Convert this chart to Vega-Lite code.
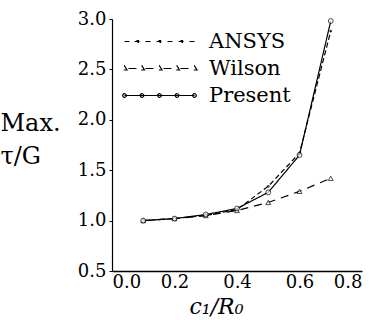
{
  "$schema": "https://vega.github.io/schema/vega-lite/v6.json",
  "width": 250,
  "height": 252,
  "autosize": {"type": "none"},
  "padding": {"left": 112, "top": 19, "right": 12, "bottom": 49},
  "background": "white",
  "config": {"view": {"stroke": null}, "font": "DejaVu Serif"},
  "data": {
    "values": [
      {"series": "ANSYS", "x": 0.1, "y": 1.0},
      {"series": "ANSYS", "x": 0.2, "y": 1.02},
      {"series": "ANSYS", "x": 0.3, "y": 1.05},
      {"series": "ANSYS", "x": 0.4, "y": 1.11},
      {"series": "ANSYS", "x": 0.5, "y": 1.34},
      {"series": "ANSYS", "x": 0.6, "y": 1.67},
      {"series": "ANSYS", "x": 0.7, "y": 2.88},
      {"series": "Wilson", "x": 0.1, "y": 1.0},
      {"series": "Wilson", "x": 0.2, "y": 1.02},
      {"series": "Wilson", "x": 0.3, "y": 1.05},
      {"series": "Wilson", "x": 0.4, "y": 1.1},
      {"series": "Wilson", "x": 0.5, "y": 1.18},
      {"series": "Wilson", "x": 0.6, "y": 1.29},
      {"series": "Wilson", "x": 0.7, "y": 1.42},
      {"series": "Present", "x": 0.1, "y": 1.0},
      {"series": "Present", "x": 0.2, "y": 1.02},
      {"series": "Present", "x": 0.3, "y": 1.06},
      {"series": "Present", "x": 0.4, "y": 1.12},
      {"series": "Present", "x": 0.5, "y": 1.28},
      {"series": "Present", "x": 0.6, "y": 1.65},
      {"series": "Present", "x": 0.7, "y": 2.98}
    ]
  },
  "encoding": {
    "x": {
      "field": "x", "type": "quantitative",
      "scale": {"domain": [0, 0.8]},
      "axis": {
        "values": [0, 0.2, 0.4, 0.6, 0.8], "format": ".1f", "grid": false,
        "domainColor": "black", "domainWidth": 1.5, "tickSize": 0, "labelPadding": 2,
        "labelFontSize": 18, "labelColor": "black",
        "title": "c₁/R₀", "titleFontStyle": "italic", "titleFontWeight": "normal",
        "titleFontSize": 22, "titleColor": "black", "titleX": 104, "titleY": 42,
        "titleBaseline": "alphabetic", "titleAlign": "center"
      }
    },
    "y": {
      "field": "y", "type": "quantitative",
      "scale": {"domain": [0.5, 3.0]},
      "axis": {
        "values": [0.5, 1.0, 1.5, 2.0, 2.5, 3.0], "format": ".1f", "grid": false,
        "domainColor": "black", "domainWidth": 1.2, "tickSize": 3, "tickColor": "black",
        "labelFontSize": 18, "labelColor": "black", "labelPadding": 3,
        "title": ["Max.", "τ/G"], "titleAngle": 0, "titleAlign": "left",
        "titleBaseline": "alphabetic", "titleX": -112, "titleY": 111,
        "titleFontSize": 24, "titleFontWeight": "normal", "titleColor": "black",
        "titleLineHeight": 33
      }
    }
  },
  "layer": [
    {
      "mark": {"type": "line", "strokeWidth": 1.2, "color": "black"},
      "encoding": {
        "strokeDash": {
          "field": "series", "type": "nominal",
          "scale": {"domain": ["ANSYS", "Wilson", "Present"], "range": [[5, 3], [8, 6], [1, 0]]},
          "legend": {
            "title": null, "orient": "none", "legendX": 37, "legendY": 12,
            "padding": 0,
            "labelFontSize": 21, "labelColor": "black", "labelOffset": 39,
            "symbolSize": 4, "symbolStrokeWidth": 1.2, "symbolStrokeColor": "black",
            "rowPadding": 5,
            "encode": {
              "symbols": {
                "update": {
                  "shape": {"signal": "datum.value === 'ANSYS' ? 'M-35,0L-30,0M-25,0L-19,0M-14,0L-8,0M-3,0L3,0M8,0L14,0M19,0L25,0M30,0L35,0M-23,-1h2v2h-2zM-1,-1h2v2h-2zM21,-1h2v2h-2z' : datum.value === 'Wilson' ? 'M-31,0L-21,0M-14,0L-4,0M4,0L14,0M21,0L31,0M-35,-2.5L-32.5,1.5L-37.5,1.5ZM-17.5,-2.5L-15,1.5L-20,1.5ZM0,-2.5L2.5,1.5L-2.5,1.5ZM17.5,-2.5L20,1.5L15,1.5ZM35,-2.5L37.5,1.5L32.5,1.5Z' : 'M-35,0L35,0M-36.8,0a1.8,1.8 0 1,0 3.6,0a1.8,1.8 0 1,0 -3.6,0M-19.3,0a1.8,1.8 0 1,0 3.6,0a1.8,1.8 0 1,0 -3.6,0M-1.8,0a1.8,1.8 0 1,0 3.6,0a1.8,1.8 0 1,0 -3.6,0M15.7,0a1.8,1.8 0 1,0 3.6,0a1.8,1.8 0 1,0 -3.6,0M33.2,0a1.8,1.8 0 1,0 3.6,0a1.8,1.8 0 1,0 -3.6,0'"},
                  "strokeDash": {"value": []},
                  "fill": {"value": "transparent"}
                }
              }
            }
          }
        }
      }
    },
    {
      "transform": [{"filter": "datum.series === 'ANSYS'"}],
      "mark": {"type": "point", "shape": "circle", "filled": true, "color": "black", "size": 8}
    },
    {
      "transform": [{"filter": "datum.series === 'Wilson'"}],
      "mark": {"type": "point", "shape": "triangle-up", "filled": true, "fill": "white", "stroke": "black", "strokeWidth": 1, "size": 24}
    },
    {
      "transform": [{"filter": "datum.series === 'Present'"}],
      "mark": {"type": "point", "shape": "circle", "filled": true, "fill": "white", "stroke": "black", "strokeWidth": 1, "size": 24}
    }
  ]
}
